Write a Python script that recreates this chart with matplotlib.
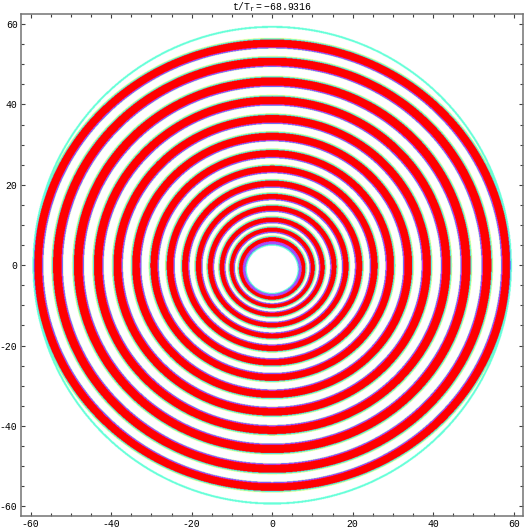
import numpy as np
import matplotlib
matplotlib.use("Agg")
import matplotlib.pyplot as plt
from matplotlib.ticker import MultipleLocator

plt.rcParams['axes.unicode_minus'] = False
plt.rcParams['mathtext.fontset'] = 'custom'
plt.rcParams['mathtext.tt'] = 'Liberation Mono'
plt.rcParams['mathtext.rm'] = 'Liberation Mono'

# radii of the red rings along the x axis
ring_radius = [7.8, 10.1, 12.45, 15.4, 18.3, 21.6, 25.4, 29.35, 33.85,
               38.45, 43.3, 48.2, 53.5, 58.25]
x_to_y_ratio = 1.054     # rings are a bit wider than tall
outer_radius = 59.6      # edge of the pattern
hole_radius = 6.3        # white hole in the middle
center_drop = 2.0        # ring centres sink a little near the middle
center_drop_scale = 9.0
title_text = r'$\mathtt{t/T_r=-68.9316}$'

xlim = (-62.4, 62.3)
ylim = (-62.4, 62.5)

n = 1100
xs = np.linspace(xlim[0], xlim[1], n)
ys = np.linspace(ylim[0], ylim[1], n)
X, Y = np.meshgrid(xs, ys)

rho0 = np.hypot(X, Y * x_to_y_ratio)
yc = -center_drop * np.exp(-rho0 / center_drop_scale)
rho = np.hypot(X, (Y - yc) * x_to_y_ratio)
r = np.hypot(X, Y)

R = np.array(ring_radius)
R_ext = np.concatenate([[R[0] - (R[1] - R[0])], R, [R[-1] + (R[-1] - R[-2])]])
idx = np.arange(len(R_ext)) - 1.0
phase = np.interp(rho, R_ext, idx)
seg = np.clip(np.searchsorted(R_ext, rho) - 1, 0, len(R_ext) - 2)
T = np.diff(R_ext)[seg]
p = phase - np.round(phase)
s = p * T
half = 0.21 * T

# no rings past the last one
beyond = (phase > len(R) - 0.5) | (phase < -0.5)

rgb = np.ones(X.shape + (3,))
red = (np.abs(s) <= half) & ~beyond
u_in = -s - half
u_out = s - half
inner = (s < 0) & ~red & ~beyond
outer = (s > 0) & ~red & ~beyond

rgb[inner & (u_in < 0.15)] = (0.85, 0.2, 0.95)
rgb[inner & (u_in >= 0.15) & (u_in < 0.35)] = (0.35, 0.4, 1.0)
rgb[inner & (u_in >= 0.35) & (u_in < 0.5)] = (1.0, 1.0, 0.78)
rgb[outer & (u_out < 0.2)] = (0.3, 0.95, 1.0)
rgb[outer & (u_out >= 0.2) & (u_out < 0.35)] = (0.6, 1.0, 0.55)
rgb[outer & (u_out >= 0.35) & (u_out < 0.5)] = (1.0, 1.0, 0.72)
rgb[red] = (1.0, 0.0, 0.0)

# rim of the pattern
rim = (r > outer_radius - 0.5) & (r <= outer_radius)
rgb[rim & red] = (0.4, 0.3, 1.0)
rgb[rim & ~red] = (0.4, 1.0, 0.85)
rgb[r > outer_radius] = 1.0

# hole in the middle
rgb[(rho > hole_radius) & (rho <= hole_radius + 0.3)] = (0.4, 1.0, 0.85)
rgb[(rho > hole_radius + 0.3) & (rho <= hole_radius + 0.55)] = (0.45, 0.4, 1.0)
rgb[(rho > hole_radius + 0.55) & (rho <= hole_radius + 0.75)] = (0.85, 0.25, 0.95)
rgb[rho <= hole_radius] = 1.0

fig = plt.figure(figsize=(5.25, 5.29), dpi=100)
ax = fig.add_axes([21 / 525, 13 / 529, 502 / 525, 502 / 529])
ax.imshow(rgb, extent=(xs[0], xs[-1], ys[0], ys[-1]), origin='lower',
          interpolation='antialiased', aspect='auto')
ax.set_xlim(xlim)
ax.set_ylim(ylim)

ax.xaxis.set_major_locator(MultipleLocator(20))
ax.yaxis.set_major_locator(MultipleLocator(20))
ax.xaxis.set_minor_locator(MultipleLocator(5))
ax.yaxis.set_minor_locator(MultipleLocator(5))
ax.tick_params(which='both', direction='in', top=True, right=True,
               color='0.25', width=0.8)
ax.tick_params(which='major', length=3.2, pad=2.5, labelsize=7)
ax.tick_params(which='minor', length=2.0)
for lab in ax.get_xticklabels() + ax.get_yticklabels():
    lab.set_family('Liberation Mono')
for sp in ax.spines.values():
    sp.set_color('0.45')
    sp.set_linewidth(1.1)

ax.set_title(title_text, fontsize=7, pad=2.5)

fig.savefig("out.png", dpi=100)
